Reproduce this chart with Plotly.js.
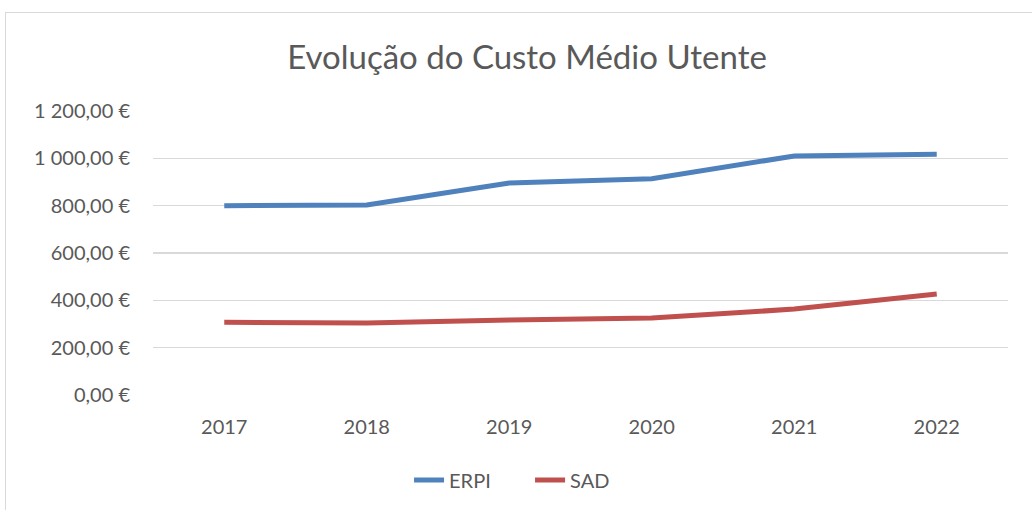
<!DOCTYPE html>
<html>
<head>
<meta charset="utf-8">
<script src="https://cdn.plot.ly/plotly-3.0.1.min.js"></script>
<style>
html,body{margin:0;padding:0;background:#fff;}
#wrap{position:relative;width:1032px;height:510px;overflow:hidden;}
#chart{position:absolute;left:0;top:0;width:1032px;height:510px;}
#frame{position:absolute;left:5px;top:12px;width:1100px;height:600px;border:1px solid #D9D9D9;pointer-events:none;}
</style>
</head>
<body>
<div id="wrap"><div id="chart"></div><div id="frame"></div></div>
<script>
const years = ['2017','2018','2019','2020','2021','2022'];
const erpi = [800, 803, 896, 914, 1010, 1017];
const sad = [307, 304, 317, 325, 363, 427];
const yTickVals = [0, 200, 400, 600, 800, 1000, 1200];
const yTickText = ['0,00 €','200,00 €','400,00 €','600,00 €','800,00 €','1 000,00 €','1 200,00 €'];

const font = 'Lato, "Open Sans", sans-serif';
const data = [
  {x: years, y: erpi, name: 'ERPI', type: 'scatter', mode: 'lines',
   line: {color: '#4F81BD', width: 5}},
  {x: years, y: sad, name: 'SAD', type: 'scatter', mode: 'lines',
   line: {color: '#C0504D', width: 5}}
];
const layout = {
  width: 1032, height: 510,
  margin: {l: 153, r: 24, t: 111, b: 114},
  paper_bgcolor: '#fff', plot_bgcolor: '#fff',
  font: {family: font, color: '#595959', size: 20},
  title: {text: 'Evolução do Custo Médio Utente', font: {family: font, size: 33, color: '#595959'},
          x: 527/1032, xref: 'container', xanchor: 'center', y: 1 - 57/510, yref: 'container', yanchor: 'middle'},
  xaxis: {type: 'category', range: [-0.5, 5.5], showgrid: false, zeroline: false,
          showline: false, ticks: '', ticklabelstandoff: 18,
          tickfont: {family: font, size: 20, color: '#595959'}},
  yaxis: {range: [0, 1200], tickvals: yTickVals, ticktext: yTickText,
          showgrid: true, gridcolor: '#D9D9D9', gridwidth: 1.3, zeroline: false,
          showline: false, ticks: '', ticklabelstandoff: 22,
          tickfont: {family: font, size: 20, color: '#595959'}},
  showlegend: true,
  legend: {orientation: 'h', x: 0.441, xanchor: 'center', y: -0.295, yanchor: 'middle',
           font: {family: font, size: 20, color: '#595959'}, itemwidth: 30, tracegroupgap: 0,
           entrywidth: 76}
};
Plotly.newPlot('chart', data, layout, {displayModeBar: false, staticPlot: true});
</script>
</body>
</html>
